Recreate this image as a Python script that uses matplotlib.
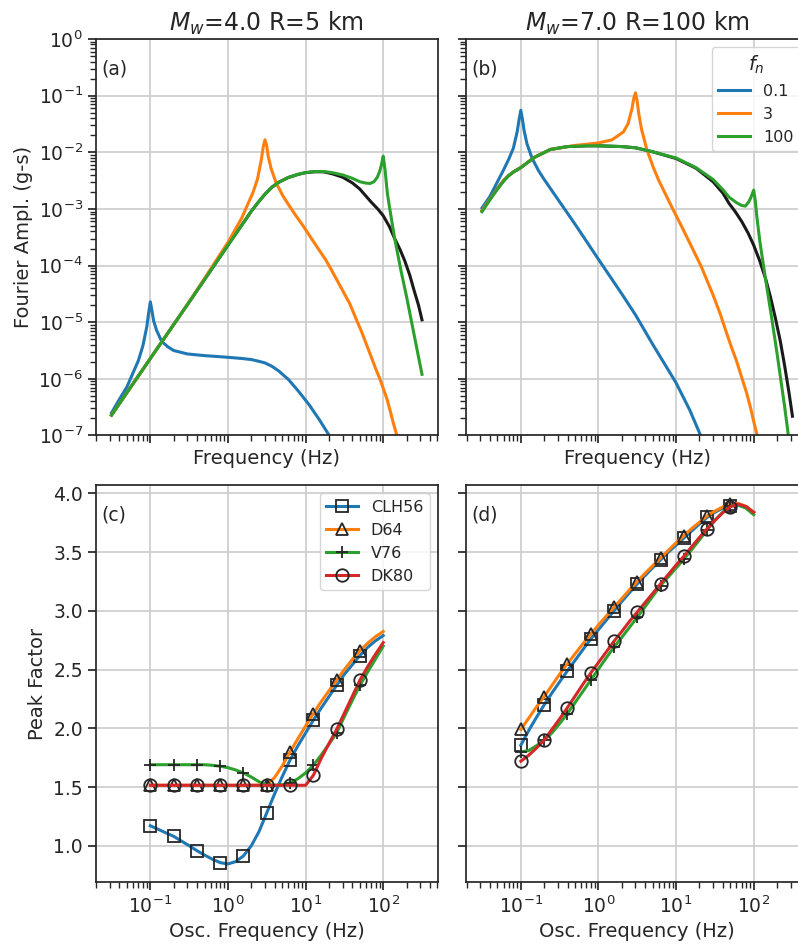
import matplotlib
matplotlib.use("Agg")
import matplotlib.pyplot as plt

# ---- top row: Fourier amplitude spectra (g-s) ----
titles = ["$M_w$=4.0 R=5 km", "$M_w$=7.0 R=100 km"]
osc_labels = ["0.1", "3", "100"]

# (a) Mw 4.0, R 5 km
fas_a_freq = [0.0316, 0.1, 0.3, 1, 1.5, 2, 2.5, 3, 3.7, 4.5, 6, 8, 10, 13, 17, 22, 30, 40,
              50, 70, 85, 100, 120, 140, 165, 190, 220, 250, 285, 316]
fas_a = [2.29e-7, 2.29e-6, 2.04e-5, 2.29e-4, 5.13e-4, 9.12e-4, 1.35e-3, 1.82e-3, 2.43e-3,
         2.95e-3, 3.59e-3, 4.07e-3, 4.37e-3, 4.52e-3, 4.52e-3, 4.17e-3, 3.63e-3, 2.88e-3,
         2.24e-3, 1.32e-3, 1.00e-3, 7.59e-4, 4.90e-4, 3.02e-4, 1.91e-4, 1.20e-4, 6.76e-5,
         3.63e-5, 2.00e-5, 1.10e-5]

osc01_a_freq = [0.0316, 0.04, 0.05, 0.06, 0.07, 0.08, 0.09, 0.095, 0.1, 0.105, 0.11, 0.12,
                0.14, 0.17, 0.2, 0.3, 0.5, 1, 1.5, 2, 2.5, 3, 3.7, 4.5, 6, 8, 11, 15, 20, 25]
osc01_a = [2.51e-7, 4.37e-7, 7.24e-7, 1.29e-6, 2.09e-6, 3.80e-6, 8.32e-6, 1.45e-5, 2.29e-5,
           1.58e-5, 1.07e-5, 7.24e-6, 4.57e-6, 3.63e-6, 3.16e-6, 2.75e-6, 2.57e-6, 2.40e-6,
           2.29e-6, 2.19e-6, 2.04e-6, 1.91e-6, 1.66e-6, 1.38e-6, 9.77e-7, 6.17e-7, 3.55e-7,
           1.91e-7, 1.02e-7, 6.31e-8]

osc3_a_freq = [0.0316, 0.1, 0.3, 1, 1.5, 2.1, 2.4, 2.7, 2.85, 3, 3.15, 3.3, 3.6, 4.2, 5.1,
               6, 7.5, 9, 10.5, 12, 15, 18, 21, 25, 30, 37, 45, 52, 60, 70, 80, 90, 100, 112,
               125, 135, 150, 170]
osc3_a = [2.29e-7, 2.29e-6, 2.04e-5, 2.57e-4, 6.84e-4, 1.95e-3, 3.35e-3, 7.59e-3, 1.26e-2,
          1.66e-2, 1.32e-2, 8.51e-3, 5.13e-3, 2.82e-3, 1.70e-3, 1.20e-3, 7.59e-4, 5.37e-4,
          3.89e-4, 2.95e-4, 1.86e-4, 1.29e-4, 8.91e-5, 5.75e-5, 3.63e-5, 2.14e-5, 1.12e-5,
          7.08e-6, 4.27e-6, 2.45e-6, 1.51e-6, 1.02e-6, 6.84e-7, 4.37e-7, 2.51e-7, 1.66e-7,
          1.00e-7, 5.01e-8]

osc100_a_freq = [0.0316, 0.1, 0.3, 1, 1.5, 2, 2.5, 3, 3.7, 4.5, 6, 8, 10, 13, 17, 22, 30, 40,
                 50, 60, 68, 76, 84, 90, 95, 100, 106, 113, 120, 140, 170, 200, 250, 316]
osc100_a = [2.29e-7, 2.29e-6, 2.04e-5, 2.29e-4, 5.13e-4, 9.12e-4, 1.35e-3, 1.82e-3, 2.43e-3,
            2.95e-3, 3.59e-3, 4.07e-3, 4.37e-3, 4.57e-3, 4.57e-3, 4.37e-3, 3.98e-3, 3.47e-3,
            3.02e-3, 2.85e-3, 2.82e-3, 3.02e-3, 3.63e-3, 4.57e-3, 6.03e-3, 8.51e-3, 4.68e-3,
            1.91e-3, 1.12e-3, 3.09e-4, 7.94e-5, 2.82e-5, 6.03e-6, 1.20e-6]

# (b) Mw 7.0, R 100 km
fas_b_freq = [0.0316, 0.04, 0.05, 0.06, 0.07, 0.08, 0.1, 0.15, 0.24, 0.4, 0.7, 1, 2, 3, 5,
              10, 18, 30, 40, 48, 58, 70, 85, 100, 120, 143, 165, 190, 220, 250, 285, 316]
fas_b = [9.33e-4, 1.48e-3, 2.29e-3, 3.16e-3, 3.89e-3, 4.47e-3, 5.37e-3, 8.13e-3, 1.12e-2,
         1.26e-2, 1.30e-2, 1.30e-2, 1.26e-2, 1.20e-2, 1.02e-2, 7.76e-3, 5.25e-3, 3.02e-3,
         1.91e-3, 1.26e-3, 8.91e-4, 6.03e-4, 3.72e-4, 2.29e-4, 1.20e-4, 5.75e-5, 2.75e-5,
         1.20e-5, 4.68e-6, 1.74e-6, 5.75e-7, 2.19e-7]

osc01_b_freq = [0.0316, 0.04, 0.05, 0.06, 0.07, 0.08, 0.09, 0.095, 0.1, 0.105, 0.11, 0.12,
                0.14, 0.17, 0.2, 0.3, 0.5, 1, 2, 3, 5, 10, 15, 20, 25]
osc01_b = [1.04e-3, 1.66e-3, 3.02e-3, 4.90e-3, 7.59e-3, 1.17e-2, 2.34e-2, 3.80e-2, 5.50e-2,
           3.80e-2, 2.45e-2, 1.41e-2, 7.76e-3, 4.68e-3, 3.31e-3, 1.48e-3, 5.37e-4, 1.29e-4,
           3.16e-5, 1.35e-5, 4.07e-6, 8.51e-7, 2.82e-7, 1.12e-7, 5.62e-8]

osc3_b_freq = [0.0316, 0.04, 0.05, 0.06, 0.07, 0.08, 0.1, 0.15, 0.24, 0.5, 1, 1.5, 2.1, 2.4,
               2.7, 2.85, 3, 3.15, 3.3, 3.6, 4.2, 5.1, 6, 9, 12, 15, 21, 30, 37, 45, 52, 60,
               70, 80, 90, 100, 112, 120]
osc3_b = [9.33e-4, 1.48e-3, 2.29e-3, 3.16e-3, 3.89e-3, 4.47e-3, 5.37e-3, 8.13e-3, 1.12e-2,
          1.32e-2, 1.46e-2, 1.66e-2, 2.29e-2, 3.16e-2, 5.82e-2, 8.91e-2, 1.12e-1, 8.13e-2,
          4.90e-2, 2.51e-2, 1.12e-2, 5.37e-3, 3.16e-3, 1.02e-3, 4.68e-4, 2.51e-4, 9.77e-5,
          3.02e-5, 1.41e-5, 6.31e-6, 3.55e-6, 2.09e-6, 1.07e-6, 6.03e-7, 3.31e-7, 1.78e-7,
          9.55e-8, 7.08e-8]

osc100_b_freq = [0.0316, 0.04, 0.05, 0.06, 0.07, 0.08, 0.1, 0.15, 0.24, 0.4, 0.7, 1, 2, 3,
                 5, 10, 18, 30, 40, 48, 60, 70, 78, 86, 92, 96, 100, 105, 110, 120, 140, 170,
                 200, 250, 280]
osc100_b = [8.91e-4, 1.45e-3, 2.24e-3, 3.09e-3, 3.89e-3, 4.47e-3, 5.37e-3, 8.13e-3, 1.12e-2,
            1.26e-2, 1.30e-2, 1.30e-2, 1.26e-2, 1.20e-2, 1.02e-2, 7.94e-3, 5.37e-3, 3.31e-3,
            2.19e-3, 1.62e-3, 1.29e-3, 1.15e-3, 1.12e-3, 1.32e-3, 1.58e-3, 1.86e-3, 2.14e-3,
            1.38e-3, 7.24e-4, 2.69e-4, 6.61e-5, 1.23e-5, 2.82e-6, 3.31e-7, 1.0e-7]

# ---- bottom row: peak factors ----
osc_freq = [0.1, 0.126, 0.158, 0.2, 0.251, 0.316, 0.398, 0.501, 0.631, 0.794,
            1.0, 1.26, 1.58, 2.0, 2.51, 3.16, 3.98, 5.01, 6.31, 7.94,
            10.0, 12.6, 15.8, 20.0, 25.1, 31.6, 39.8, 50.1, 63.1, 79.4, 100.0]
methods = ["CLH56", "D64", "V76", "DK80"]

pf_c = {
    "CLH56": [1.17, 1.14, 1.11, 1.08, 1.04, 1.00, 0.958, 0.92, 0.885, 0.856,
              0.845, 0.865, 0.913, 1.00, 1.12, 1.28, 1.44, 1.59, 1.73, 1.85,
              1.96, 2.07, 2.17, 2.27, 2.366, 2.46, 2.54, 2.62, 2.69, 2.745, 2.79],
    "D64": [1.515, 1.515, 1.515, 1.515, 1.515, 1.515, 1.515, 1.515, 1.515, 1.515,
            1.515, 1.515, 1.515, 1.515, 1.515, 1.52, 1.58, 1.68, 1.80, 1.91,
            2.02, 2.125, 2.225, 2.32, 2.41, 2.50, 2.585, 2.66, 2.725, 2.78, 2.825],
    "V76": [1.69, 1.69, 1.69, 1.69, 1.69, 1.69, 1.69, 1.69, 1.685, 1.677,
            1.665, 1.645, 1.62, 1.585, 1.545, 1.52, 1.515, 1.52, 1.535, 1.57,
            1.62, 1.686, 1.77, 1.865, 1.96, 2.10, 2.235, 2.366, 2.48, 2.59, 2.70],
    "DK80": [1.515, 1.515, 1.515, 1.515, 1.515, 1.515, 1.515, 1.515, 1.515, 1.515,
             1.515, 1.515, 1.515, 1.515, 1.515, 1.515, 1.515, 1.515, 1.515, 1.515,
             1.515, 1.60, 1.74, 1.87, 1.99, 2.13, 2.27, 2.41, 2.525, 2.63, 2.73],
}

pf_d = {
    "CLH56": [1.856, 1.98, 2.09, 2.20, 2.30, 2.395, 2.49, 2.58, 2.67, 2.76,
              2.84, 2.92, 3.00, 3.08, 3.155, 3.23, 3.30, 3.368, 3.434, 3.50,
              3.56, 3.62, 3.68, 3.74, 3.796, 3.84, 3.875, 3.895, 3.90, 3.88, 3.84],
    "D64": [1.99, 2.085, 2.18, 2.27, 2.365, 2.46, 2.55, 2.635, 2.72, 2.80,
            2.88, 2.955, 3.03, 3.105, 3.18, 3.25, 3.32, 3.385, 3.45, 3.515,
            3.58, 3.64, 3.70, 3.755, 3.81, 3.85, 3.885, 3.91, 3.915, 3.89, 3.84],
    "V76": [1.80, 1.81, 1.85, 1.90, 1.96, 2.04, 2.125, 2.22, 2.315, 2.41,
            2.505, 2.60, 2.69, 2.775, 2.86, 2.945, 3.035, 3.125, 3.215, 3.29,
            3.365, 3.44, 3.52, 3.605, 3.69, 3.77, 3.84, 3.895, 3.905, 3.875, 3.82],
    "DK80": [1.72, 1.77, 1.83, 1.90, 1.99, 2.08, 2.176, 2.275, 2.375, 2.47,
             2.56, 2.65, 2.74, 2.825, 2.91, 2.99, 3.07, 3.15, 3.23, 3.31,
             3.39, 3.465, 3.545, 3.625, 3.70, 3.77, 3.835, 3.887, 3.91, 3.89, 3.84],
}

colors = ["#1f77b4", "#ff7f0e", "#2ca02c", "#d62728"]
markers = ["s", "^", "+", "o"]

plt.rcParams.update({
    "font.family": "DejaVu Sans",
    "font.size": 13.5,
    "axes.labelsize": 14,
    "axes.titlesize": 17,
    "xtick.labelsize": 13.5,
    "ytick.labelsize": 13.5,
    "legend.fontsize": 11.5,
    "legend.title_fontsize": 14,
    "text.color": ".15",
    "axes.labelcolor": ".15",
    "axes.edgecolor": ".15",
    "xtick.color": ".15",
    "ytick.color": ".15",
    "axes.linewidth": 1.25,
    "grid.color": ".8",
    "grid.linewidth": 1.2,
    "xtick.major.size": 6,
    "ytick.major.size": 6,
    "xtick.minor.size": 4,
    "ytick.minor.size": 4,
    "xtick.major.width": 1.25,
    "ytick.major.width": 1.25,
    "xtick.minor.width": 1,
    "ytick.minor.width": 1,
})


def plot_spectra(ax, fas_freq, fas, osc_curves):
    ax.plot(fas_freq, fas, color="0.1", lw=2.2)
    for (freq, amp), label, color in zip(osc_curves, osc_labels, colors):
        ax.plot(freq, amp, color=color, lw=2.2, label=label)


def plot_peak_factors(ax, pf):
    # markers on every third oscillator frequency, last one at ~50 Hz
    for name, color, marker in zip(methods, colors, markers):
        ax.plot(osc_freq, pf[name], color=color, lw=2.2, marker=marker,
                markevery=list(range(0, 28, 3)),
                ms=9, mfc="none", mec=".15", mew=1.3, label=name)


fig, axes = plt.subplots(2, 2, figsize=(7.98, 9.46), dpi=100, sharex="all", sharey="row")
fig.subplots_adjust(left=0.1203, right=1.0125, top=0.9588, bottom=0.0677,
                    wspace=0.0848, hspace=0.126)

plot_spectra(axes[0, 0], fas_a_freq, fas_a,
             [(osc01_a_freq, osc01_a), (osc3_a_freq, osc3_a), (osc100_a_freq, osc100_a)])
plot_spectra(axes[0, 1], fas_b_freq, fas_b,
             [(osc01_b_freq, osc01_b), (osc3_b_freq, osc3_b), (osc100_b_freq, osc100_b)])
plot_peak_factors(axes[1, 0], pf_c)
plot_peak_factors(axes[1, 1], pf_d)

for ax in axes.flat:
    ax.set_xscale("log")
    ax.grid(True, which="major")

for ax, title in zip(axes[0], titles):
    ax.set_yscale("log")
    ax.set_ylim(1e-7, 1)
    ax.set_title(title)
    ax.set_xlabel("Frequency (Hz)")

for ax in axes[1]:
    ax.set_xlabel("Osc. Frequency (Hz)")

axes[0, 0].set_ylabel("Fourier Ampl. (g-s)")
axes[1, 0].set_ylabel("Peak Factor")

for ax, tag in zip(axes.flat, ["(a)", "(b)", "(c)", "(d)"]):
    ax.text(0.015, 0.925, tag, transform=ax.transAxes, va="center", ha="left")

axes[0, 1].legend(title="$f_n$", loc="upper right")
axes[1, 0].legend(loc="upper right")

fig.savefig("out.png", dpi=100)
